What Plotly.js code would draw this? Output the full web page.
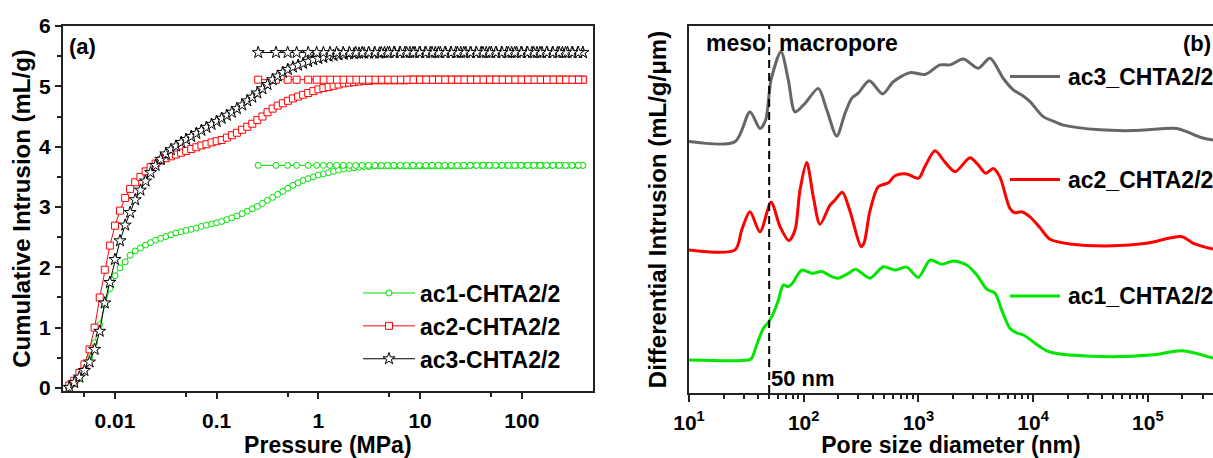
<!DOCTYPE html>
<html>
<head>
<meta charset="utf-8">
<script src="https://cdn.plot.ly/plotly-3.0.1.min.js"></script>
<style>
  html, body { margin: 0; padding: 0; background: #ffffff; }
  #chart { width: 1213px; height: 458px; }
</style>
</head>
<body>
<div id="chart"></div>
<script>
// ---------- (a) cumulative intrusion vs. pressure ----------
const pressureIntrusion = [
  0.00355, 0.00398, 0.00447, 0.00501, 0.00562, 0.00631, 0.00708, 0.00794, 0.00891,
  0.0100, 0.0112, 0.0126, 0.0141, 0.0158, 0.0178, 0.0200, 0.0224, 0.0251, 0.0282,
  0.0316, 0.0355, 0.0398, 0.0447, 0.0501, 0.0562, 0.0631, 0.0708, 0.0794, 0.0891,
  0.100, 0.112, 0.126, 0.141, 0.158, 0.178, 0.200, 0.224, 0.251, 0.282,
  0.316, 0.355, 0.398, 0.447, 0.501, 0.562, 0.631, 0.708, 0.794, 0.891,
  1.00, 1.12, 1.26, 1.41, 1.58, 1.78, 2.00, 2.24, 2.51, 2.82,
  3.16, 3.55, 3.98, 4.47, 5.01, 5.62, 6.31, 7.08, 7.94, 8.91,
  10.0, 11.2, 12.6, 14.1, 15.8, 17.8, 20.0, 22.4, 25.1, 28.2,
  31.6, 35.5, 39.8, 44.7, 50.1, 56.2, 63.1, 70.8, 79.4, 89.1,
  100, 112, 126, 141, 158, 178, 200, 224, 251, 282, 316, 355, 398
];
const intrusionAc1 = [
  0.00, 0.07, 0.16, 0.30, 0.50, 0.75, 1.05, 1.38, 1.65,
  1.86, 1.99, 2.09, 2.20, 2.27, 2.32, 2.37, 2.41, 2.45, 2.48,
  2.51, 2.54, 2.57, 2.59, 2.61, 2.63, 2.65, 2.68, 2.70, 2.72,
  2.74, 2.76, 2.79, 2.82, 2.85, 2.89, 2.93, 2.97, 3.01, 3.06,
  3.11, 3.16, 3.21, 3.26, 3.31, 3.36, 3.40, 3.44, 3.47, 3.50,
  3.53, 3.55, 3.57, 3.59, 3.61, 3.63, 3.64, 3.65, 3.66, 3.67,
  3.67, 3.68, 3.68, 3.68, 3.68, 3.68, 3.68, 3.68, 3.68, 3.68,
  3.68, 3.68, 3.68, 3.68, 3.68, 3.68, 3.68, 3.68, 3.68, 3.68,
  3.69, 3.69, 3.69, 3.69, 3.69, 3.69, 3.69, 3.69, 3.69, 3.69,
  3.69, 3.69, 3.69, 3.69, 3.69, 3.69, 3.69, 3.69, 3.69, 3.69, 3.69, 3.69, 3.69
];
const intrusionAc2 = [
  0.04, 0.12, 0.25, 0.39, 0.64, 1.00, 1.50, 1.96, 2.36,
  2.69, 2.94, 3.15, 3.30, 3.41, 3.50, 3.59, 3.66, 3.72, 3.77,
  3.81, 3.84, 3.87, 3.90, 3.93, 3.96, 3.99, 4.02, 4.04, 4.07,
  4.09, 4.11, 4.15, 4.19, 4.23, 4.28, 4.33, 4.38, 4.44, 4.50,
  4.57, 4.63, 4.68, 4.72, 4.76, 4.80, 4.83, 4.86, 4.89, 4.92,
  4.95, 4.97, 4.99, 5.01, 5.03, 5.05, 5.06, 5.07, 5.08, 5.09,
  5.09, 5.10, 5.10, 5.10, 5.10, 5.10, 5.10, 5.10, 5.11, 5.11,
  5.11, 5.11, 5.11, 5.11, 5.11, 5.11, 5.11, 5.11, 5.11, 5.11,
  5.11, 5.11, 5.11, 5.11, 5.11, 5.11, 5.11, 5.11, 5.11, 5.11,
  5.11, 5.11, 5.11, 5.11, 5.11, 5.11, 5.11, 5.11, 5.11, 5.11, 5.11, 5.11, 5.11
];
const intrusionAc3 = [
  0.01, 0.09, 0.18, 0.29, 0.43, 0.64, 0.94, 1.41, 1.75,
  2.13, 2.44, 2.70, 2.91, 3.12, 3.28, 3.43, 3.57, 3.69, 3.79,
  3.88, 3.95, 4.01, 4.07, 4.12, 4.17, 4.22, 4.27, 4.32, 4.37,
  4.42, 4.47, 4.52, 4.57, 4.63, 4.69, 4.76, 4.82, 4.89, 4.96,
  5.03, 5.11, 5.17, 5.23, 5.28, 5.32, 5.35, 5.38, 5.41, 5.44,
  5.46, 5.48, 5.50, 5.51, 5.52, 5.53, 5.54, 5.54, 5.55, 5.55,
  5.55, 5.55, 5.55, 5.56, 5.56, 5.56, 5.56, 5.56, 5.56, 5.56,
  5.56, 5.56, 5.56, 5.56, 5.56, 5.56, 5.56, 5.56, 5.56, 5.56,
  5.56, 5.56, 5.56, 5.56, 5.56, 5.56, 5.56, 5.56, 5.56, 5.56,
  5.56, 5.56, 5.56, 5.56, 5.56, 5.56, 5.56, 5.56, 5.56, 5.56, 5.56, 5.56, 5.56
];

// extrusion branch (listed with rising pressure)
const pressureExtrusion = [
  0.256, 0.383, 0.499, 0.611, 0.794, 0.962, 1.12, 1.30, 1.51, 1.75,
  2.02, 2.33, 2.69, 3.11, 3.59, 4.15, 4.79, 5.53, 6.38, 7.37,
  8.51, 9.83, 11.4, 13.1, 15.1, 17.5, 20.2, 23.3, 26.9, 31.1,
  35.9, 41.5, 47.9, 55.3, 63.8, 73.7, 85.1, 98.3, 114, 131,
  151, 175, 202, 233, 269, 311, 359, 398
];
const extrusionAc1 = [
  3.69, 3.69, 3.69, 3.69, 3.69, 3.69, 3.69, 3.69, 3.69, 3.69,
  3.69, 3.69, 3.69, 3.69, 3.69, 3.69, 3.69, 3.69, 3.69, 3.69,
  3.69, 3.69, 3.69, 3.69, 3.69, 3.69, 3.69, 3.69, 3.69, 3.69,
  3.69, 3.69, 3.69, 3.69, 3.69, 3.69, 3.69, 3.69, 3.69, 3.69,
  3.69, 3.69, 3.69, 3.69, 3.69, 3.69, 3.69, 3.69
];
const extrusionAc2 = [
  5.11, 5.11, 5.11, 5.11, 5.11, 5.11, 5.11, 5.11, 5.11, 5.11,
  5.11, 5.11, 5.11, 5.11, 5.11, 5.11, 5.11, 5.11, 5.11, 5.11,
  5.11, 5.11, 5.11, 5.11, 5.11, 5.11, 5.11, 5.11, 5.11, 5.11,
  5.11, 5.11, 5.11, 5.11, 5.11, 5.11, 5.11, 5.11, 5.11, 5.11,
  5.11, 5.11, 5.11, 5.11, 5.11, 5.11, 5.11, 5.11
];
const extrusionAc3 = [
  5.56, 5.56, 5.56, 5.56, 5.56, 5.56, 5.56, 5.56, 5.56, 5.56,
  5.56, 5.56, 5.56, 5.56, 5.56, 5.56, 5.56, 5.56, 5.56, 5.56,
  5.56, 5.56, 5.56, 5.56, 5.56, 5.56, 5.56, 5.56, 5.56, 5.56,
  5.56, 5.56, 5.56, 5.56, 5.56, 5.56, 5.56, 5.56, 5.56, 5.56,
  5.56, 5.56, 5.56, 5.56, 5.56, 5.56, 5.56, 5.56
];

const pressureTickVals = [0.01, 0.1, 1, 10, 100];
const pressureTickText = ['0.01', '0.1', '1', '10', '100'];
const pressureMinorTicks = [0.005, 0.05, 0.5, 5, 50];

// ---------- (b) differential intrusion vs. pore size ----------
const poreAc3 = [10, 25.2, 34.0, 41.6, 46.6, 51.9, 63.4, 73.4, 84.0, 102.6,
  134, 159, 194, 229, 262, 299, 373, 488, 604, 845,
  1142, 1543, 1888, 2462, 3326, 4207, 5497, 6718, 7955, 9397,
  12270, 16070, 18340, 38280, 74270, 178600, 218300, 285100, 369800];
const diffAc3 = [68.5, 68.5, 76.6, 72.1, 74.4, 85.3, 93.0, 85.3, 76.6, 78.9,
  83.0, 77.1, 70.0, 76.2, 80.3, 81.7, 85.1, 81.5, 84.8, 87.3,
  86.8, 89.4, 89.4, 91.0, 88.5, 91.2, 85.7, 82.6, 81.2, 79.4,
  75.3, 73.7, 73.0, 71.7, 71.5, 72.1, 71.2, 69.7, 68.9];

const poreAc2 = [10, 25.2, 28.8, 34.0, 41.6, 51.9, 62.2, 74.1, 84.0, 92.8,
  106.2, 121.2, 138.6, 169.6, 187.6, 217, 253, 316, 335, 378,
  446, 548, 625, 787, 1000, 1140, 1395, 1705, 2085, 2820,
  3330, 3860, 4490, 5130, 6270, 6930, 7925, 9397, 11480, 14030,
  20950, 50160, 97700, 197700, 249200, 369800];
const diffAc2 = [39.0, 39.0, 44.4, 49.4, 43.9, 52.0, 45.3, 41.5, 44.4, 55.3,
  62.8, 53.5, 46.0, 51.2, 52.6, 54.7, 49.6, 39.9, 40.8, 49.6,
  56.2, 57.3, 59.2, 59.7, 58.5, 61.7, 66.0, 62.9, 60.3, 64.1,
  62.1, 59.9, 61.2, 58.9, 50.3, 49.1, 49.4, 48.0, 45.0, 41.9,
  40.6, 40.1, 40.8, 42.6, 40.8, 39.2];

const poreAc1 = [10, 32.9, 35.2, 38.9, 44.4, 49.1, 54.3, 60.1, 66.4, 73.4,
  79.6, 96.1, 117.5, 143.6, 175.5, 200.4, 244.9, 283.8, 378.4, 494.2,
  625.3, 791, 998, 1262, 1596, 2015, 2636, 3222, 3939, 4652,
  5322, 6291, 7197, 8220, 11490, 13140, 17170, 50040, 111700, 197700, 369800];
const diffAc1 = [9.0, 9.0, 9.5, 13.1, 17.6, 19.2, 21.7, 25.3, 29.4, 29.0,
  29.9, 33.5, 32.6, 33.1, 31.7, 31.3, 32.6, 33.7, 31.3, 34.4,
  33.5, 34.3, 31.5, 36.2, 35.1, 36.0, 34.9, 32.2, 28.3, 27.2,
  22.6, 17.6, 16.4, 15.8, 12.6, 11.5, 10.6, 9.9, 10.4, 11.5, 9.5];

const poreTickVals = [10, 100, 1000, 10000, 100000];
const poreTickText = ['10<sup>1</sup>', '10<sup>2</sup>', '10<sup>3</sup>', '10<sup>4</sup>', '10<sup>5</sup>'];
const mesoMacroLimit = 50;

const seriesA = [
  { name: 'ac1-CHTA2/2', intr: intrusionAc1, extr: extrusionAc1, color: '#00e000', symbol: 'circle', size: 6 },
  { name: 'ac2-CHTA2/2', intr: intrusionAc2, extr: extrusionAc2, color: '#ff0000', symbol: 'square', size: 7 },
  { name: 'ac3-CHTA2/2', intr: intrusionAc3, extr: extrusionAc3, color: '#000000', symbol: 'star', size: 9 }
];
const seriesB = [
  { name: 'ac3_CHTA2/2', x: poreAc3, y: diffAc3, color: '#666666' },
  { name: 'ac2_CHTA2/2', x: poreAc2, y: diffAc2, color: '#ff0000' },
  { name: 'ac1_CHTA2/2', x: poreAc1, y: diffAc1, color: '#00e600' }
];

// ---------- page geometry (pixels) ----------
const W = 1213, H = 458;
const M = { l: 63, r: 0, t: 26, b: 65 };
const PW = W - M.l - M.r, PH = H - M.t - M.b;
const px = x => (x - M.l) / PW;        // page x -> paper x
const py = y => (H - M.b - y) / PH;    // page y -> paper y

const FONT = 'Liberation Sans, Arial, Helvetica, sans-serif';
const f = (size, color) => ({ family: FONT, size: size, color: color || '#000', weight: 'bold' });

const traces = [];
seriesA.forEach(s => {
  traces.push({
    type: 'scatter', mode: 'lines+markers', name: s.name,
    x: pressureIntrusion.concat(pressureExtrusion.slice().reverse()),
    y: s.intr.concat(s.extr.slice().reverse()),
    xaxis: 'x', yaxis: 'y',
    line: { color: s.color, width: 1 },
    marker: { symbol: s.symbol, size: s.size, color: '#ffffff', line: { color: s.color, width: 1 } }
  });
});
seriesB.forEach(s => {
  traces.push({
    type: 'scatter', mode: 'lines', name: s.name, showlegend: false,
    x: s.x, y: s.y, xaxis: 'x2', yaxis: 'y2',
    line: { color: s.color, width: 3, shape: 'spline', smoothing: 0.8 }
  });
});

const axisLine = { showline: true, linecolor: '#222', linewidth: 2, showgrid: false, zeroline: false };

const layout = {
  width: W, height: H,
  margin: M,
  paper_bgcolor: '#ffffff', plot_bgcolor: '#ffffff',
  font: f(21),
  showlegend: true,
  legend: {
    x: px(358), y: py(326), xanchor: 'left', yanchor: 'middle',
    bgcolor: 'rgba(0,0,0,0)', borderwidth: 0, font: f(23), itemwidth: 52,
    tracegroupgap: 0
  },
  xaxis: Object.assign({}, axisLine, {
    type: 'log', domain: [0, px(592.7)], anchor: 'y',
    range: [-2.511, 2.697], mirror: true,
    tickmode: 'array', tickvals: pressureTickVals, ticktext: pressureTickText,
    ticks: 'outside', ticklen: 6, tickwidth: 2, tickcolor: '#222',
    ticklabelstandoff: 4,
    tickfont: f(21),
    minor: { tickmode: 'array', tickvals: pressureMinorTicks, ticks: 'outside', ticklen: 4, tickwidth: 2, tickcolor: '#222', showgrid: false },
    title: { text: 'Pressure (MPa)', font: f(23), standoff: 12 }
  }),
  yaxis: Object.assign({}, axisLine, {
    domain: [py(391), 1], anchor: 'x',
    range: [-0.05, 6], mirror: true,
    tickmode: 'linear', tick0: 0, dtick: 1,
    ticks: 'outside', ticklen: 6, tickwidth: 2, tickcolor: '#222',
    tickfont: f(21),
    minor: { dtick: 0.5, ticks: 'outside', ticklen: 4, tickwidth: 2, tickcolor: '#222', showgrid: false },
    title: { text: 'Cumulative Intrusion (mL/g)', font: f(24), standoff: 2 }
  }),
  xaxis2: Object.assign({}, axisLine, {
    type: 'log', domain: [px(689), 1], anchor: 'y2',
    range: [1, 5.568], mirror: true,
    tickmode: 'array', tickvals: poreTickVals, ticktext: poreTickText,
    ticks: 'outside', ticklen: 7, tickwidth: 2, tickcolor: '#222',
    ticklabelstandoff: 3,
    tickfont: f(21),
    minor: { dtick: 'D1', ticks: 'outside', ticklen: 4, tickwidth: 2, tickcolor: '#222', showgrid: false },
    title: { text: 'Pore size diameter (nm)', font: f(23), standoff: 10 }
  }),
  yaxis2: Object.assign({}, axisLine, {
    domain: [0, 1], anchor: 'x2',
    range: [0, 100], showticklabels: false, ticks: '',
    title: { text: 'Differential Intrusion (mL/g/\u03bcm)', font: f(24), standoff: 14 }
  }),
  shapes: [
    { type: 'line', xref: 'x2', yref: 'y2 domain', x0: mesoMacroLimit, x1: mesoMacroLimit, y0: 0, y1: 1,
      line: { color: '#000', width: 2, dash: '8px,5px' } }
  ],
  annotations: [
    { text: '(a)', xref: 'paper', yref: 'paper', x: px(67), y: py(47), xanchor: 'left', yanchor: 'middle', showarrow: false, font: f(22) },
    { text: '(b)', xref: 'paper', yref: 'paper', x: px(1213), y: py(43), xanchor: 'right', yanchor: 'middle', showarrow: false, font: f(22) },
    { text: 'meso', xref: 'paper', yref: 'paper', x: px(735.5), y: py(43), xanchor: 'center', yanchor: 'middle', showarrow: false, font: f(23) },
    { text: 'macropore', xref: 'paper', yref: 'paper', x: px(838.5), y: py(43), xanchor: 'center', yanchor: 'middle', showarrow: false, font: f(23) },
    { text: '50 nm', xref: 'paper', yref: 'paper', x: px(769), y: py(378), xanchor: 'left', yanchor: 'middle', showarrow: false, font: f(22) }
  ]
};

// right-hand series labels, each beside its own curve
const labelRowsB = [76.5, 179.5, 296];
seriesB.forEach((s, i) => {
  const yy = py(labelRowsB[i]);
  layout.shapes.push({ type: 'line', xref: 'paper', yref: 'paper', x0: px(1010), x1: px(1060), y0: yy, y1: yy,
    line: { color: s.color, width: 3 } });
  layout.annotations.push({ text: s.name, xref: 'paper', yref: 'paper', x: px(1066), y: yy,
    xanchor: 'left', yanchor: 'middle', showarrow: false, font: f(23) });
});

Plotly.newPlot('chart', traces, layout, { displayModeBar: false, staticPlot: true });
</script>
</body>
</html>
